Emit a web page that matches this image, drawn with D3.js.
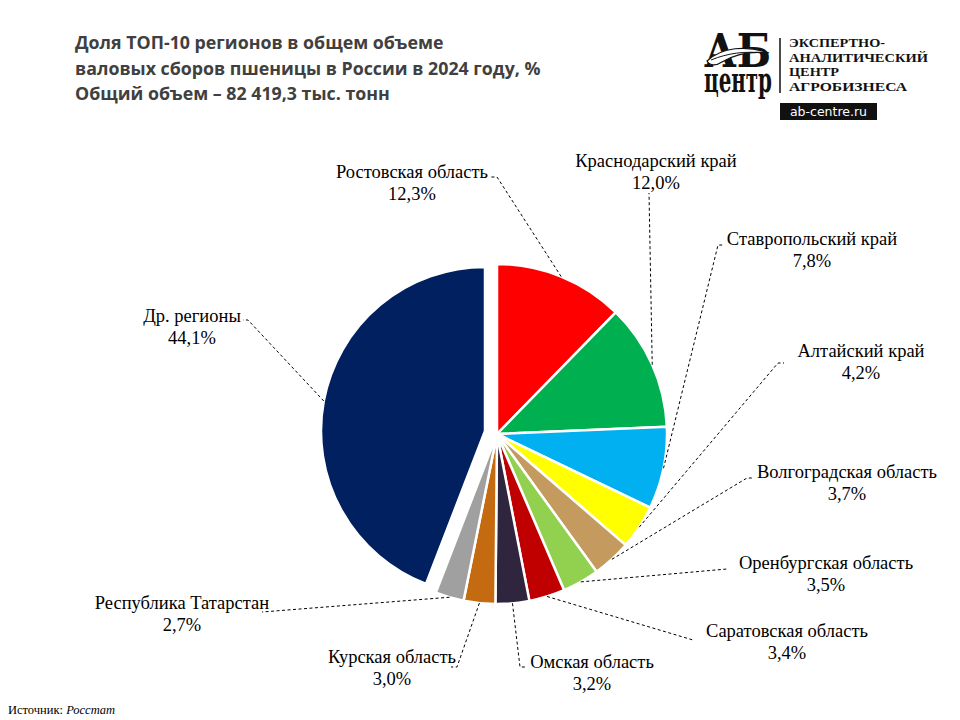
<!DOCTYPE html>
<html>
<head>
<meta charset="utf-8">
<script src="https://cdn.jsdelivr.net/npm/d3@7"></script>
<style>
  body { margin: 0; background: #fff; }
  svg { display: block; }
</style>
</head>
<body>
<div id="chart"></div>
<script>
//Data
var regions = ["Ростовская область", "Краснодарский край", "Ставропольский край", "Алтайский край",
  "Волгоградская область", "Оренбургская область", "Саратовская область", "Омская область",
  "Курская область", "Республика Татарстан", "Др. регионы"];
var shares = [12.3, 12.0, 7.8, 4.2, 3.7, 3.5, 3.4, 3.2, 3.0, 2.7, 44.1];
var colors = ["#ff0000", "#00b050", "#00b0f0", "#ffff00", "#c49a5e", "#92d050",
  "#c00000", "#30253f", "#c46a10", "#a0a0a0", "#002060"];
var titleLines = ["Доля ТОП-10 регионов в общем объеме",
  "валовых сборов пшеницы в России в 2024 году, %",
  "Общий объем – 82 419,3 тыс. тонн"];

//Label layout (text centre x, first baseline y, leader anchor x/y, short tick)
var labelLayout = [
  {x: 412, y: 178, ax: 491, ay: 177, tick: 6},
  {x: 656, y: 167, ax: 649, ay: 193, tick: 0},
  {x: 812, y: 245, ax: 724, ay: 245, tick: -6},
  {x: 861, y: 357, ax: 784, ay: 363, tick: -6},
  {x: 847, y: 478, ax: 753, ay: 478, tick: -6},
  {x: 826, y: 569, ax: 727, ay: 569, tick: 0},
  {x: 787, y: 637, ax: 693, ay: 640, tick: 0},
  {x: 592, y: 668, ax: 526, ay: 667, tick: -6},
  {x: 392, y: 663, ax: 451, ay: 667, tick: 6},
  {x: 182, y: 609, ax: 262, ay: 612, tick: 0},
  {x: 192, y: 322, ax: 243, ay: 320, tick: 5}
];

var width = 960, height = 720;
var cx = 497, cy = 434, radius = 170;
//exploded slice "Др. регионы"
var explodeIdx = 10, explodeShift = [-12, -3], explodeRadius = 164;

var svg = d3.select("#chart")
  .append("svg")
  .attr("width", width)
  .attr("height", height);

//Title
svg.append("g")
  .selectAll("text")
  .data(titleLines)
  .enter()
  .append("text")
  .attr("x", 75)
  .attr("y", function(d, i){ return 49 + i * 25.5; })
  .attr("font-family", "'Open Sans', sans-serif")
  .attr("font-weight", "700")
  .attr("font-size", "17.8px")
  .attr("fill", "#404040")
  .text(function(d){ return d; });

//Pie
var pie = d3.pie().sort(null).value(function(d){ return d; });
var arcs = pie(shares);

var arc = d3.arc().innerRadius(0).outerRadius(radius);
var arcExp = d3.arc().innerRadius(0).outerRadius(explodeRadius);

var pieG = svg.append("g").attr("transform", "translate(" + cx + "," + cy + ")");

pieG.selectAll("path")
  .data(arcs)
  .enter()
  .append("path")
  .attr("d", function(d, i){ return i == explodeIdx ? arcExp(d) : arc(d); })
  .attr("transform", function(d, i){
    return i == explodeIdx ? "translate(" + explodeShift[0] + "," + explodeShift[1] + ")" : null;
  })
  .attr("fill", function(d, i){ return colors[i]; })
  .attr("stroke", "#fff")
  .attr("stroke-width", 2.5)
  .attr("stroke-linejoin", "round");

//Leader lines: from slice edge (mid angle) to the label
function edgePoint(d, i){
  var r = i == explodeIdx ? explodeRadius : radius;
  var a = (d.startAngle + d.endAngle) / 2;
  var x = cx + r * Math.sin(a), y = cy - r * Math.cos(a);
  if (i == explodeIdx) { x += explodeShift[0]; y += explodeShift[1]; }
  return [x, y];
}

svg.append("g")
  .selectAll("path")
  .data(arcs)
  .enter()
  .append("path")
  .attr("d", function(d, i){
    var l = labelLayout[i];
    var pts = [edgePoint(d, i), [l.ax + l.tick, l.ay], [l.ax, l.ay]];
    return d3.line()(pts);
  })
  .attr("fill", "none")
  .attr("stroke", "#000")
  .attr("stroke-width", 1)
  .attr("stroke-dasharray", "3,2.5");

//Labels
var labels = svg.append("g")
  .selectAll("text")
  .data(arcs)
  .enter()
  .append("text")
  .attr("text-anchor", "middle")
  .attr("font-family", "'Liberation Serif', 'Times New Roman', serif")
  .attr("font-size", "18.5px")
  .attr("fill", "#000");

labels.append("tspan")
  .attr("x", function(d, i){ return labelLayout[i].x; })
  .attr("y", function(d, i){ return labelLayout[i].y; })
  .text(function(d, i){ return regions[i]; });

labels.append("tspan")
  .attr("x", function(d, i){ return labelLayout[i].x; })
  .attr("y", function(d, i){ return labelLayout[i].y + 22; })
  .text(function(d, i){ return d3.format(".1f")(shares[i]).replace(".", ",") + "%"; });

//Source
var src = svg.append("text")
  .attr("x", 8)
  .attr("y", 714)
  .attr("font-family", "'Liberation Serif', serif")
  .attr("font-size", "12.5px")
  .attr("fill", "#000");
src.append("tspan").text("Источник: ");
src.append("tspan").attr("font-style", "italic").text("Росстат");

//Logo
var logo = svg.append("g").attr("class", "logo");

//big letters as one text block
var mark = logo.append("text")
  .attr("font-family", "'DejaVu Serif', serif")
  .attr("font-weight", "700")
  .attr("fill", "#111");
mark.append("tspan")
  .attr("x", 704).attr("y", 67)
  .attr("font-size", "46px")
  .attr("textLength", 67)
  .attr("lengthAdjust", "spacingAndGlyphs")
  .text("АБ");
mark.append("tspan")
  .attr("x", 704).attr("y", 92)
  .attr("font-size", "36px")
  .attr("textLength", 68)
  .attr("lengthAdjust", "spacingAndGlyphs")
  .text("центр");

//leaf swoosh over the letters
logo.append("path")
  .attr("d", "M707,61 C722,47 746,45 769,53 C752,51 735,54 722,62 C716,66 710,66 707,61 Z")
  .attr("fill", "#fff")
  .attr("stroke", "#111")
  .attr("stroke-width", 1.2);
logo.append("path")
  .attr("d", "M711,60 C728,53 745,51 763,53")
  .attr("fill", "none")
  .attr("stroke", "#111")
  .attr("stroke-width", 1);

logo.append("line")
  .attr("x1", 780).attr("x2", 780)
  .attr("y1", 38).attr("y2", 93)
  .attr("stroke", "#111")
  .attr("stroke-width", 1.5);

var logoLines = ["ЭКСПЕРТНО-", "АНАЛИТИЧЕСКИЙ", "ЦЕНТР", "АГРОБИЗНЕСА"];
var logoLens = [96, 139, 50, 118];
logo.append("text")
  .attr("font-family", "'Liberation Serif', serif")
  .attr("font-weight", "700")
  .attr("font-size", "12px")
  .attr("fill", "#111")
  .selectAll("tspan")
  .data(logoLines)
  .enter()
  .append("tspan")
  .attr("x", 789)
  .attr("y", function(d, i){ return 47 + i * 14.7; })
  .attr("textLength", function(d, i){ return logoLens[i]; })
  .attr("lengthAdjust", "spacingAndGlyphs")
  .text(function(d){ return d; });

logo.append("rect")
  .attr("x", 780).attr("y", 103)
  .attr("width", 97).attr("height", 17)
  .attr("fill", "#111");

logo.append("text")
  .attr("x", 828.5)
  .attr("y", 116)
  .attr("text-anchor", "middle")
  .attr("font-family", "'DejaVu Sans', sans-serif")
  .attr("font-size", "12.5px")
  .attr("fill", "#fff")
  .text("ab-centre.ru");
</script>
</body>
</html>
